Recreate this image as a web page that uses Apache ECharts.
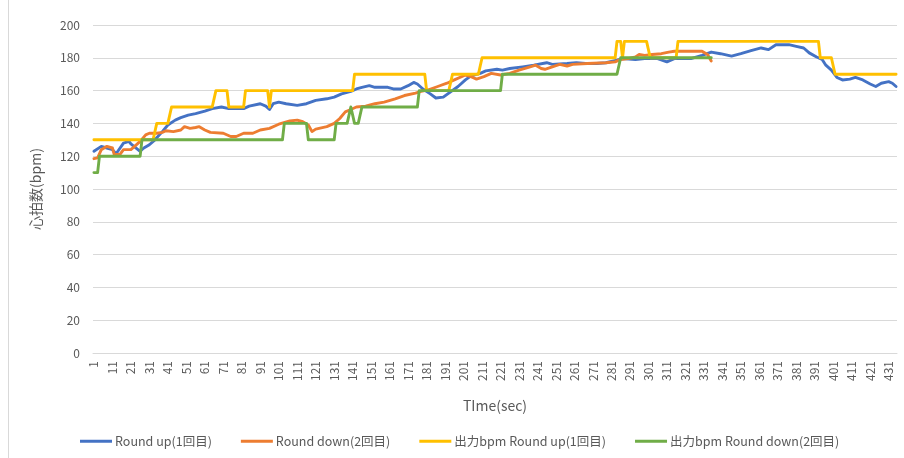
<!DOCTYPE html>
<html>
<head>
<meta charset="utf-8">
<script src="https://cdn.jsdelivr.net/npm/echarts@6/dist/echarts.min.js"></script>
<style>
  html, body { margin: 0; padding: 0; background: #fff; }
  #chart { width: 904px; height: 458px; }
</style>
</head>
<body>
<div id="chart"></div>
<script>
// Elapsed seconds on the category axis
const seconds = Array.from({ length: 435 }, (_, i) => String(i + 1));

// Measured heart rate, Round up (1回目): [second, bpm] vertices
const upTime = [1,5,8,11,13,17,20,21,26,28,31,34,38,41,45,48,52,56,61,65,70,74,82,85,91,94,96,98,101,105,111,116,121,127,131,135,140,143,146,150,153,160,163,167,171,174,176,179,183,186,190,193,198,202,205,210,213,219,222,226,233,239,246,249,257,262,267,273,278,284,287,294,299,306,311,315,324,330,335,340,346,351,357,362,366,370,377,381,385,388,392,395,397,400,403,406,410,413,417,421,424,427,431,433,435];
const upBpm = [123,126,125,124,121.5,128,129,127.5,123,125,127,130,135,139,142,143.5,145,146,147.5,149,150,149,149,150.5,152,150.5,148.5,152,153,152,151,152,154,155,156,158,159.5,161,162,163,162,162,161,161,163,165,164,161,158,155.5,156,158.5,162.5,166.5,169,170.5,172,173,172.5,173.5,174.5,175.5,177,176,176.5,177,176.5,176.5,177,178.5,179.5,179,179.5,179.5,177.5,179.5,179.5,181.5,183.5,182.5,181,182.5,184.5,186,185,188,188,187,186,183,180.5,179,175.5,172.5,168,166.5,167,168,166.5,164,162.5,164.5,165.5,164.5,162.5];

// Measured heart rate, Round down (2回目)
const downTime = [1,3,5,8,11,12,15,17,21,23,26,29,31,35,38,40,44,48,50,53,56,58,61,64,71,75,78,82,87,91,96,101,107,111,114,117,119,121,127,131,134,137,140,143,148,153,158,164,169,175,178,182,187,192,196,202,205,208,212,216,221,226,231,237,240,243,245,249,253,257,260,268,278,283,286,290,294,296,299,303,308,312,315,324,330,333,335];
const downBpm = [118.5,119,124,126,125,121,121,124,124,126,129,133,134,134,134.5,135.5,135,136,138,137,137.5,138,136,134.5,134,132,132,134,134,136,137,139.5,141.5,142,141,139,135,136.5,138,140,143,147,148.5,150,150.5,152,153,155,157,158.5,159.5,160.5,162.5,164.5,166.5,169.5,168.5,167,168.5,170.5,169.5,170.5,172.5,174.5,175.5,173.5,173,174.5,176,175,176,176.5,177,177.5,179,179.5,180.5,182,181.5,182,182.5,183.5,184,184,184,182,178];

// Output bpm, Round up: level held from each start second
const outUpStart = [1,35,43,67,74,83,96,97,142,181,195,211,284,287,288,302,317,394,402];
const outUpLevel = [130,140,150,160,150,160,150,160,170,160,170,180,190,180,190,180,190,180,170];
const outUpEnd = 435;

// Output bpm, Round down
const outDownStart = [1,4,27,104,117,132,140,142,146,177,222,286];
const outDownLevel = [110,120,130,140,130,140,150,140,150,160,170,180];
const outDownEnd = 335;

const yTicks = { min: 0, max: 200, step: 20 };

function pairs(times, values) {
  return times.map((t, i) => [t - 1, values[i]]);
}
function holdLevels(starts, levels, end) {
  const out = [];
  for (let t = 1; t <= end; t++) {
    let k = 0;
    while (k + 1 < starts.length && starts[k + 1] <= t) k++;
    out.push([t - 1, levels[k]]);
  }
  return out;
}

const FONT = '"Noto Sans CJK JP", "Noto Sans", sans-serif';
const TXT = '#595959';

function lineSeries(name, color, data) {
  return {
    name, type: 'line', data,
    showSymbol: false, symbol: 'none',
    lineStyle: { color, width: 2.9, cap: 'round', join: 'round' },
    itemStyle: { color },
    animation: false
  };
}

const chart = echarts.init(document.getElementById('chart'), null, { renderer: 'canvas' });
chart.setOption({
  backgroundColor: '#ffffff',
  animation: false,
  textStyle: { fontFamily: FONT },
  grid: { left: 93, right: 7, top: 25, bottom: 105, containLabel: false },
  xAxis: {
    type: 'category',
    data: seconds,
    boundaryGap: true,
    name: 'TIme(sec)',
    nameLocation: 'middle',
    nameGap: 46,
    nameTextStyle: { color: TXT, fontSize: 14, fontFamily: FONT },
    axisLine: { lineStyle: { color: '#d9d9d9', width: 1 } },
    axisTick: { show: false },
    axisLabel: { interval: 9, rotate: 90, color: TXT, fontSize: 12, margin: 8, fontFamily: FONT },
    splitLine: { show: false }
  },
  yAxis: {
    type: 'value',
    min: yTicks.min, max: yTicks.max, interval: yTicks.step,
    name: '心拍数(bpm)',
    nameLocation: 'middle',
    nameRotate: 90,
    nameGap: 50,
    nameTextStyle: { color: TXT, fontSize: 14, fontFamily: FONT },
    axisLine: { show: false },
    axisTick: { show: false },
    axisLabel: { color: TXT, fontSize: 12, margin: 13, fontFamily: FONT },
    splitLine: { lineStyle: { color: '#d9d9d9', width: 1 } }
  },
  legend: {
    left: 75, top: 430,
    icon: 'rect', itemWidth: 32, itemHeight: 3, itemGap: 29,
    textStyle: { color: TXT, fontSize: 12.5, fontFamily: FONT, padding: [0, 0, 0, -2] },
    data: ['Round up(1回目)', 'Round down(2回目)', '出力bpm Round up(1回目)', '出力bpm Round down(2回目)']
  },
  graphic: [{
    type: 'line', silent: true,
    shape: { x1: 8.5, y1: 0, x2: 8.5, y2: 458 },
    style: { stroke: '#d9d9d9', lineWidth: 1 }
  }],
  series: [
    lineSeries('Round up(1回目)', '#4472C4', pairs(upTime, upBpm)),
    lineSeries('Round down(2回目)', '#ED7D31', pairs(downTime, downBpm)),
    lineSeries('出力bpm Round up(1回目)', '#FFC000', holdLevels(outUpStart, outUpLevel, outUpEnd)),
    lineSeries('出力bpm Round down(2回目)', '#70AD47', holdLevels(outDownStart, outDownLevel, outDownEnd))
  ]
});
</script>
</body>
</html>
